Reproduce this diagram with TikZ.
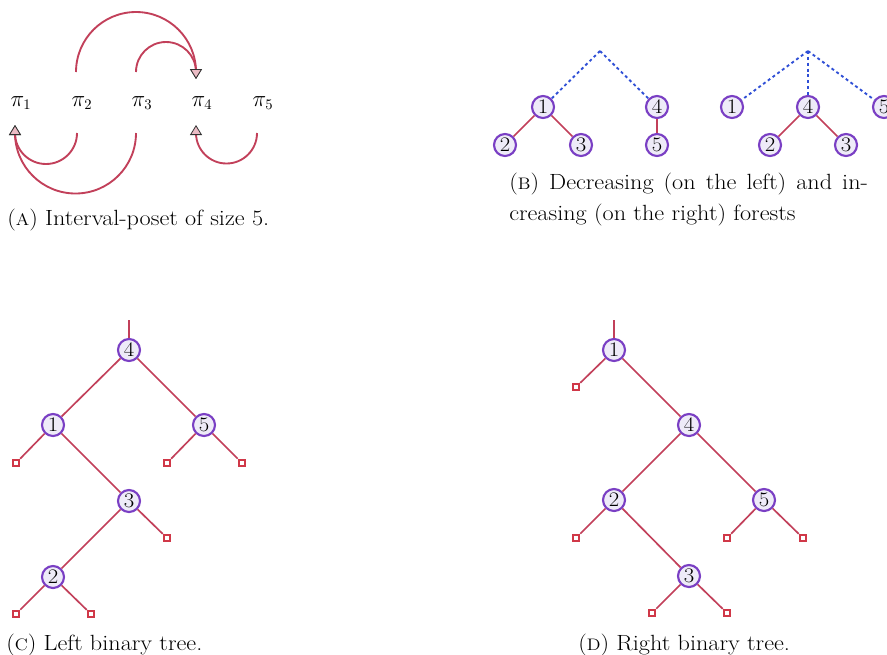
\documentclass[tikz,border=0pt]{standalone}
\usepackage{fontspec}
\setmainfont{Latin Modern Roman}[FakeStretch=1.1]
\usetikzlibrary{arrows.meta}
\definecolor{edgec}{HTML}{C2405A}
\definecolor{nodec}{HTML}{7A3FC4}
\definecolor{nodef}{HTML}{EEEBF8}
\definecolor{dotc}{HTML}{2F4FD6}
\definecolor{tipf}{HTML}{EBBCC5}
\definecolor{leafc}{HTML}{D03848}
\newcommand{\fsc}[1]{{\fontsize{12.5}{12.5}\selectfont #1}}
\begin{document}
\begin{tikzpicture}[x=0.75pt,y=-0.75pt,
 vtx/.style={circle,draw=nodec,fill=nodef,line width=1.6pt,minimum size=16.5pt,inner sep=0pt,font=\fontsize{15.5}{15.5}\selectfont},
 leafbox/.style={rectangle,draw=leafc,fill=white,line width=1.4pt,minimum size=5pt,inner sep=0pt},
 treeedge/.style={draw=edgec,line width=1.25pt},
 dotline/.style={draw=dotc,line width=1.4pt,dash pattern=on 2.2pt off 2.2pt},
 arcline/.style={draw=edgec,line width=1.4pt,-{Triangle[length=7.5pt,width=9pt,fill=tipf,color=black!80,line width=0.6pt]}},
 pilbl/.style={font=\fontsize{16}{16}\selectfont,inner sep=0pt},
 captxt/.style={font=\fontsize{16.5}{19}\selectfont,anchor=base west,inner sep=0pt}]
\path[use as bounding box,fill=white] (0,0) rectangle (887,654);

% ---------- (A) interval-poset ----------
\node[pilbl] (p1) at (21,103) {$\pi_1$};
\node[pilbl] (p2) at (82,103) {$\pi_2$};
\node[pilbl] (p3) at (142,103) {$\pi_3$};
\node[pilbl] (p4) at (202,103) {$\pi_4$};
\node[pilbl] (p5) at (263,103) {$\pi_5$};
\coordinate (t2) at (76,72);
\coordinate (t3) at (136,72);
\coordinate (t4) at (196,79);
\coordinate (b2) at (77,133);
\coordinate (b3) at (136,133);
\coordinate (b5) at (257,133);
\coordinate (b1) at (15,125);
\coordinate (b4) at (196,125);
\draw[arcline] (t2) arc[start angle=180,end angle=360,radius=60] -- (t4);
\draw[arcline] (t3) arc[start angle=180,end angle=360,radius=30] -- (t4);
\draw[arcline] (b2) arc[start angle=0,end angle=180,radius=31] -- (b1);
\draw[arcline] (b3) arc[start angle=0,end angle=180,radius=60.5] -- (b1);
\draw[arcline] (b5) arc[start angle=0,end angle=180,radius=30.5] -- (b4);
\node[captxt] (capA) at (7,225) {(\fsc{A}) Interval-poset of size 5.};

% ---------- (B) forests ----------
\coordinate (da) at (600,51);
\node[vtx] (d1) at (543,107) {1};
\node[vtx] (d4) at (657,107) {4};
\node[vtx] (d2) at (505,145) {2};
\node[vtx] (d3) at (581,145) {3};
\node[vtx] (d5) at (657,145) {5};
\draw[dotline] (da) -- (d1);
\draw[dotline] (da) -- (d4);
\draw[treeedge] (d1) -- (d2);
\draw[treeedge] (d1) -- (d3);
\draw[treeedge] (d4) -- (d5);
\coordinate (ia) at (808,51);
\node[vtx] (i1) at (732,107) {1};
\node[vtx] (i4) at (808,107) {4};
\node[vtx] (i5) at (884,107) {5};
\node[vtx] (i2) at (770,145) {2};
\node[vtx] (i3) at (846,145) {3};
\draw[dotline] (ia) -- (i1);
\draw[dotline] (ia) -- (i4);
\draw[dotline] (ia) -- (i5);
\draw[treeedge] (i4) -- (i2);
\draw[treeedge] (i4) -- (i3);
\node[captxt] (capB1) at (509,189) {\makebox[269pt][s]{(\fsc{B}) Decreasing (on the left) and in-}};
\node[captxt] (capB2) at (509,220) {creasing (on the right) forests};

% ---------- (C) left binary tree ----------
\coordinate (lr) at (129,320);
\node[vtx] (l4) at (129,350) {4};
\node[vtx] (l1) at (53,425) {1};
\node[vtx] (l5) at (204,425) {5};
\node[vtx] (l3) at (129,501) {3};
\node[vtx] (l2) at (53,577) {2};
\node[leafbox] (la) at (16,463) {};
\node[leafbox] (lb) at (167,463) {};
\node[leafbox] (lc) at (242,463) {};
\node[leafbox] (ld) at (167,538) {};
\node[leafbox] (le) at (16,614) {};
\node[leafbox] (lf) at (91,614) {};
\draw[treeedge] (lr) -- (l4);
\draw[treeedge] (l4) -- (l1);
\draw[treeedge] (l4) -- (l5);
\draw[treeedge] (l1) -- (la);
\draw[treeedge] (l1) -- (l3);
\draw[treeedge] (l5) -- (lb);
\draw[treeedge] (l5) -- (lc);
\draw[treeedge] (l3) -- (l2);
\draw[treeedge] (l3) -- (ld);
\draw[treeedge] (l2) -- (le);
\draw[treeedge] (l2) -- (lf);
\node[captxt] (capC) at (6,650) {(\fsc{C})\ Left\ binary\ tree.};

% ---------- (D) right binary tree ----------
\coordinate (rr) at (614,320);
\node[vtx] (r1) at (614,350) {1};
\node[vtx] (r4) at (689,425) {4};
\node[vtx] (r2) at (614,500) {2};
\node[vtx] (r5) at (764,500) {5};
\node[vtx] (r3) at (689,576) {3};
\node[leafbox] (ra) at (576,387) {};
\node[leafbox] (rb) at (576,538) {};
\node[leafbox] (rc) at (727,538) {};
\node[leafbox] (rd) at (803,538) {};
\node[leafbox] (re) at (652,613) {};
\node[leafbox] (rf) at (727,613) {};
\draw[treeedge] (rr) -- (r1);
\draw[treeedge] (r1) -- (ra);
\draw[treeedge] (r1) -- (r4);
\draw[treeedge] (r4) -- (r2);
\draw[treeedge] (r4) -- (r5);
\draw[treeedge] (r2) -- (rb);
\draw[treeedge] (r2) -- (r3);
\draw[treeedge] (r5) -- (rc);
\draw[treeedge] (r5) -- (rd);
\draw[treeedge] (r3) -- (re);
\draw[treeedge] (r3) -- (rf);
\node[captxt] (capD) at (578,650) {(\fsc{D}) Right binary tree.};
\end{tikzpicture}
\end{document}
